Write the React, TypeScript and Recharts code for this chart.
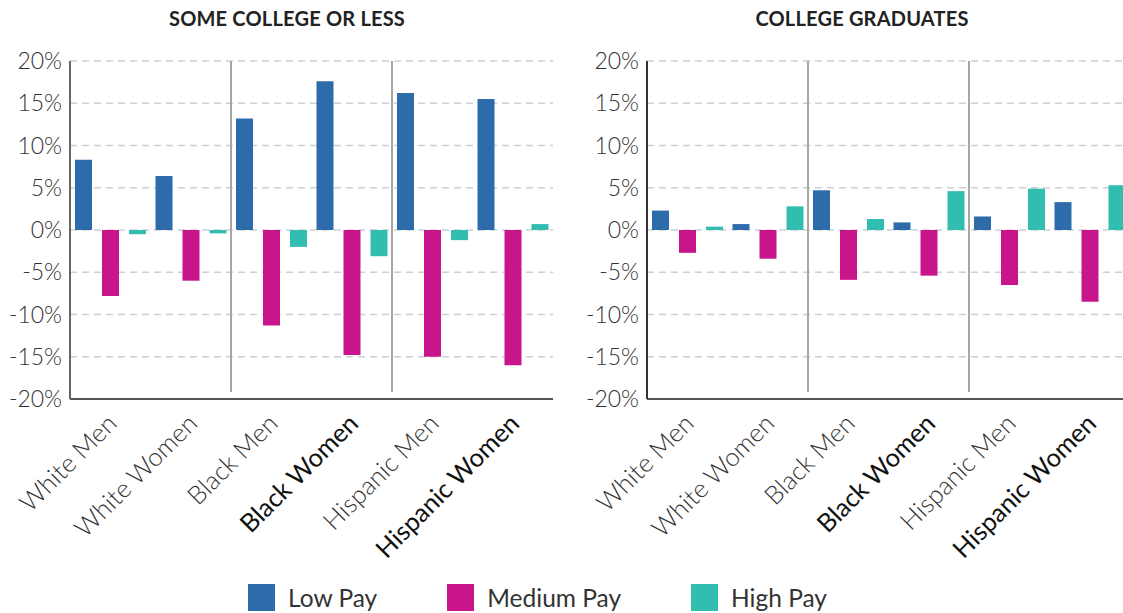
import React from 'react'
import {
  BarChart,
  Bar,
  XAxis,
  YAxis,
  CartesianGrid,
  ReferenceLine,
} from 'recharts'

const groups = [
  'White Men',
  'White Women',
  'Black Men',
  'Black Women',
  'Hispanic Men',
  'Hispanic Women',
]
const darkLabels = ['Black Women', 'Hispanic Women']
// a thin line goes before these groups
const splitBefore = ['Black Men', 'Hispanic Men']

const someCollegeLow = [8.3, 6.4, 13.2, 17.6, 16.2, 15.5]
const someCollegeMedium = [-7.8, -6.0, -11.3, -14.8, -15.0, -16.0]
const someCollegeHigh = [-0.5, -0.4, -2.0, -3.1, -1.2, 0.7]

const graduatesLow = [2.3, 0.7, 4.7, 0.9, 1.6, 3.3]
const graduatesMedium = [-2.7, -3.4, -5.9, -5.4, -6.5, -8.5]
const graduatesHigh = [0.4, 2.8, 1.3, 4.6, 4.9, 5.3]

const yTicks = [-20, -15, -10, -5, 0, 5, 10, 15, 20]

const series = [
  { key: 'low', name: 'Low Pay', color: '#2E6BAA' },
  { key: 'medium', name: 'Medium Pay', color: '#C8158C' },
  { key: 'high', name: 'High Pay', color: '#31BEB1' },
]

const buildRows = (low: number[], medium: number[], high: number[]) =>
  groups.map((g, i) => ({ group: g, low: low[i], medium: medium[i], high: high[i] }))

const someCollegeData = buildRows(someCollegeLow, someCollegeMedium, someCollegeHigh)
const graduatesData = buildRows(graduatesLow, graduatesMedium, graduatesHigh)

const FONT = 'Lato, "Open Sans", sans-serif'

const W = 560
const H = 613
const M = { top: 61, right: 7, bottom: 0, left: 0 }
const Y_W = 70
const halfBand = (W - M.left - M.right - Y_W) / groups.length / 2

const GroupTick = (props: any) => {
  const { x, y, payload } = props
  const dark = darkLabels.includes(payload.value)
  const tx = x - 6
  const ty = y + 4
  return (
    <text
      x={tx}
      y={ty}
      transform={`rotate(-45, ${tx}, ${ty})`}
      textAnchor="end"
      dominantBaseline="hanging"
      fontFamily={FONT}
      fontSize={25.5}
      fontWeight={dark ? 400 : 300}
      fill={dark ? '#111' : '#333'}
    >
      {payload.value}
    </text>
  )
}

// reference line sits on the band centre; move it to the band edge
const Separator = (props: any) => {
  const { x1, y1, x2, y2 } = props
  return (
    <line
      x1={x1 - halfBand}
      y1={y1 - 7}
      x2={x2 - halfBand}
      y2={y2}
      stroke="#a6a6a6"
      strokeWidth={2}
    />
  )
}

const Panel = ({ data, axisColor }: { data: any[]; axisColor: string }) => (
  <BarChart
    width={W}
    height={H}
    data={data}
    margin={M}
    barCategoryGap={5}
    barGap={10}
  >
    <CartesianGrid
      vertical={false}
      stroke="#cfcfcf"
      strokeWidth={1.5}
      strokeDasharray="7 5"
    />
    <XAxis
      dataKey="group"
      height={214}
      interval={0}
      tickLine={false}
      axisLine={{ stroke: '#555', strokeWidth: 2 }}
      tick={<GroupTick />}
    />
    <YAxis
      width={Y_W}
      domain={[-20, 20]}
      ticks={yTicks}
      tickFormatter={(v: number) => `${v}%`}
      tickLine={false}
      tickSize={0}
      tickMargin={8}
      axisLine={{ stroke: axisColor, strokeWidth: 2 }}
      tick={{ fontFamily: FONT, fontSize: 23, fontWeight: 300, fill: '#333' }}
    />
    {splitBefore.map((g) => (
      <ReferenceLine key={g} x={g} shape={<Separator />} />
    ))}
    {series.map((s) => (
      <Bar
        key={s.key}
        dataKey={s.key}
        name={s.name}
        fill={s.color}
        isAnimationActive={false}
      />
    ))}
  </BarChart>
)

const titleStyle: React.CSSProperties = {
  position: 'absolute',
  top: 6,
  fontFamily: FONT,
  fontWeight: 700,
  fontSize: 20,
  color: '#222',
  textAlign: 'center',
  letterSpacing: 0.2,
}

export default function App() {
  return (
    <div
      style={{
        position: 'absolute',
        left: 0,
        top: 0,
        width: 1123,
        height: 613,
        overflow: 'hidden',
        background: '#fff',
      }}
    >
      <div style={{ ...titleStyle, left: 70, width: 434 }}>SOME COLLEGE OR LESS</div>
      <div style={{ ...titleStyle, left: 647, width: 430 }}>COLLEGE GRADUATES</div>
      <div style={{ position: 'absolute', left: 0, top: 0 }}>
        <Panel data={someCollegeData} axisColor="#666" />
      </div>
      <div style={{ position: 'absolute', left: 577, top: 0 }}>
        <Panel data={graduatesData} axisColor="#333" />
      </div>
      <div
        style={{
          position: 'absolute',
          left: 248,
          top: 583,
          display: 'flex',
          alignItems: 'center',
          fontFamily: FONT,
          fontSize: 24.5,
          color: '#333',
        }}
      >
        {series.map((s) => (
          <div key={s.key} style={{ display: 'flex', alignItems: 'center', marginRight: 70 }}>
            <div style={{ width: 27, height: 27, background: s.color }} />
            <span style={{ marginLeft: 13 }}>{s.name}</span>
          </div>
        ))}
      </div>
    </div>
  )
}
